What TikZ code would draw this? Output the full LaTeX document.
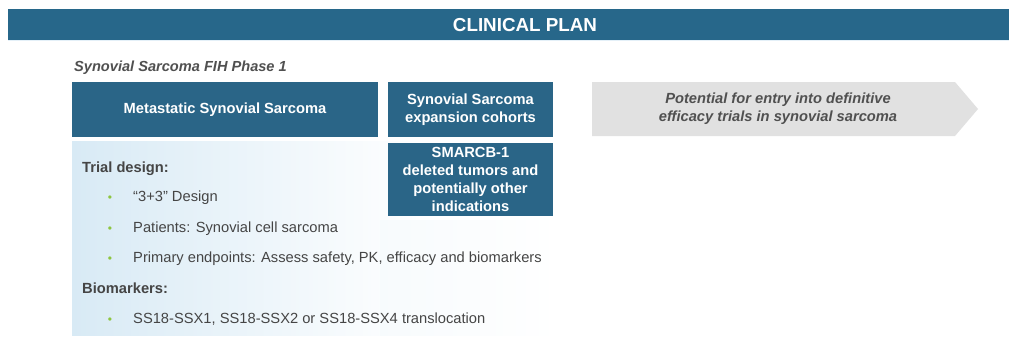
\documentclass[tikz,border=0pt]{standalone}
\usepackage{fontspec}
\setmainfont{Liberation Sans}
\definecolor{hdr}{HTML}{27678A}
\definecolor{boxc}{HTML}{2A6587}
\definecolor{arrowc}{HTML}{E1E1E1}
\definecolor{txt}{HTML}{454545}
\definecolor{italt}{HTML}{505050}
\definecolor{bul}{HTML}{8DC63F}
\definecolor{panel}{HTML}{D8EAF5}
\begin{document}
\begin{tikzpicture}[x=1pt,y=-1pt,
  bluebox/.style={fill=boxc,draw=none,text=white,font=\bfseries\fontsize{14.7}{18}\selectfont,align=center,inner sep=0pt},
  body/.style={anchor=base west,text=txt,font=\fontsize{14.7}{16}\selectfont,inner sep=0pt},
  head/.style={anchor=base west,text=txt,font=\bfseries\fontsize{14.7}{16}\selectfont,inner sep=0pt},
  bulletdot/.style={anchor=base,text=bul,font=\fontsize{12}{16}\selectfont,inner sep=0pt}]
\useasboundingbox (0,0) rectangle (1009,337);
\fill[white] (0,0) rectangle (1009,337);
% header
\fill[hdr] (8,9) rectangle (1009,40);
\draw[panel!70!white,line width=1pt] (8,40.5) -- (1009,40.5);
\node[text=white,font=\bfseries\fontsize{18.8}{20}\selectfont,inner sep=0pt] (title) at (525,25) {CLINICAL PLAN};
% subtitle
\node[anchor=base west,text=italt,font=\bfseries\itshape\fontsize{14.6}{16}\selectfont,inner sep=0pt] (sub) at (74,71) {Synovial Sarcoma FIH Phase 1};
% panel gradient
\shade[left color=panel,right color=white] (72,141) rectangle (420,335);
\fill[white] (420,141) rectangle (560,335);
\shade[left color=white!80!panel,right color=white] (380,220) rectangle (560,335);
% boxes
\fill[boxc] (72,82) rectangle (378,137);
\node[bluebox] (meta) at (225,109.5) {Metastatic Synovial Sarcoma};
\fill[boxc] (388,82) rectangle (553,137);
\node[bluebox] (exp) at (470.5,109.5) {Synovial Sarcoma\\expansion cohorts};
\fill[boxc] (388,143) rectangle (553,216);
\node[bluebox] (smarc) at (470.5,179.5) {SMARCB-1\\deleted tumors and\\potentially other\\indications};
% arrow
\fill[arrowc] (592,82) -- (955,82) -- (978,109) -- (955,136) -- (592,136) -- cycle;
\node[text=italt,font=\bfseries\itshape\fontsize{14.7}{18}\selectfont,align=center,inner sep=0pt] (pot) at (778,109) {Potential for entry into definitive\\efficacy trials in synovial sarcoma};
% body text
\node[head] (td) at (82,172) {Trial design:};
\node[bulletdot] (b1) at (110,201) {•};
\node[body] (t1) at (133,201) {“3+3” Design};
\node[bulletdot] (b2) at (110,232) {•};
\node[body] (t2) at (133,232) {Patients: Synovial cell sarcoma};
\node[bulletdot] (b3) at (110,262) {•};
\node[body] (t3) at (133,262) {Primary endpoints: Assess safety, PK, efficacy and biomarkers};
\node[head] (bm) at (82,293) {Biomarkers:};
\node[bulletdot] (b4) at (110,323) {•};
\node[body] (t4) at (133,323) {SS18-SSX1, SS18-SSX2 or SS18-SSX4 translocation};
\end{tikzpicture}
\end{document}
